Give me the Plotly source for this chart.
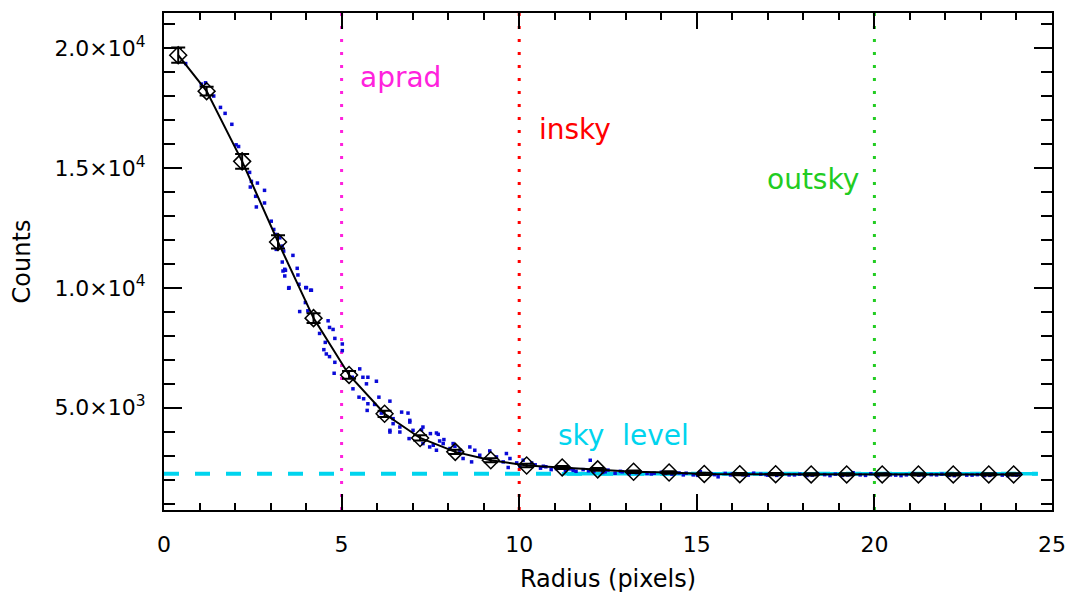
import plotly.graph_objects as go

# ---- data ----
radius = [0.40, 1.20, 2.20, 3.21, 4.21, 5.21, 6.21, 7.21, 8.20, 9.20, 10.21, 11.21, 12.21,
          13.22, 14.22, 15.21, 16.21, 17.22, 18.22, 19.22, 20.22, 21.24, 22.22, 23.22, 23.92]
counts = [19710, 18210, 15280, 11920, 8740, 6370, 4750, 3740, 3160, 2810, 2590, 2510, 2430,
          2330, 2300, 2240, 2230, 2230, 2220, 2220, 2220, 2220, 2220, 2220, 2220]
count_err = [320, 180, 310, 280, 200, 160, 130, 110, 90, 80, 70, 60, 60,
             50, 50, 50, 50, 50, 50, 50, 50, 50, 50, 50, 50]

pix_radius = [0.61, 1.05, 1.17, 1.40, 1.59, 1.72, 1.91, 2.03, 2.10, 2.41, 2.46, 2.63, 2.43, 2.83,
              2.58, 2.83, 2.60, 3.02, 3.09, 3.14, 3.33, 3.16, 3.63, 3.33, 3.75, 3.40,
              3.35, 3.40, 3.52, 4.01, 4.15, 3.80, 3.26, 3.37, 3.42, 3.77, 3.51, 3.99, 4.13,
              3.98, 3.82, 4.05, 4.62, 4.66, 4.76, 4.38, 4.54, 4.81, 4.50, 4.66, 4.57, 4.81,
              5.02, 5.02, 4.79, 5.30, 5.51, 5.60, 5.74, 5.98, 5.70, 5.32, 5.49, 5.62, 6.05,
              5.74, 5.93, 6.36, 5.72, 6.12, 6.45, 6.69, 6.87, 6.45, 6.64, 6.36, 6.92, 7.01,
              6.90, 7.25, 7.50, 7.67, 7.76, 7.58, 7.88, 7.29, 8.05, 8.14, 8.19, 8.33, 8.61,
              8.75, 8.89, 9.17, 9.36, 9.64, 9.55, 9.74, 9.93, 10.11, 10.02, 9.69, 8.66, 8.42,
              7.86, 7.72, 7.29, 6.92, 6.64, 6.36, 7.48, 7.67,
              10.45, 10.60, 10.75, 10.90, 11.05, 11.30, 11.45, 11.60, 11.80, 12.00, 12.10,
              12.35, 12.50, 12.70, 12.90, 13.10, 13.40, 13.60, 13.80, 14.00, 14.30, 14.50,
              14.70, 14.90, 15.10, 15.40, 15.60, 15.80, 16.00, 16.30, 16.60, 16.80, 17.00,
              17.40, 17.60, 17.90, 18.10, 18.40, 18.60, 18.90, 19.10, 19.40, 19.60, 19.90,
              20.10, 20.30, 20.60, 20.90, 21.10, 21.40, 21.60, 21.90, 22.10, 22.40, 22.60,
              22.90, 23.10, 23.40, 23.60, 23.90, 24.10,
              10.35, 10.68, 11.15, 11.52, 11.95, 12.42, 12.85, 13.30, 13.72, 14.12, 14.62,
              15.02, 15.50, 15.95, 16.45, 16.95, 17.25, 17.75, 18.25, 18.75, 19.25, 19.75,
              20.45, 20.75, 21.25, 21.75, 22.25, 22.75, 23.25, 23.75, 24.00]
pix_counts = [19360, 18504, 18558, 18006, 17532, 17283, 16826, 15970, 15900, 14820, 14445, 14375,
              14209, 14071, 13822, 13544, 13378, 12784, 12439, 12231, 11745, 11608, 11358,
              11080, 10818, 10777,
              10706, 10499, 10013, 10013, 9904, 10154, 12091, 11537, 10735, 10540, 9987, 10013,
              9904, 9389, 9015, 9045, 8629, 8351, 8268, 8101, 7728, 7894, 7424, 7134, 7245,
              6897, 7661, 7383, 6440, 6273, 6622, 6273, 6273, 6107, 5999, 5791, 5442, 5376,
              5442, 5168, 5139, 5276, 4890, 4778, 4545, 4819, 4778, 4337, 4196, 4059, 4404,
              4059, 3714, 4088, 3922, 3947, 3614, 3436, 3673, 3506, 3299, 3506, 3394, 3228,
              3365, 3228, 3020, 3199, 2950, 3091, 2742, 2883, 2700, 2813, 2563, 2509, 2742,
              2883, 3506, 3893, 4196, 4474, 3988, 3988, 3365, 3228,
              2620, 2480, 2540, 2420, 2460, 2380, 2450, 2350, 2420, 2810, 2340,
              2300, 2400, 2270, 2330, 2250, 2330, 2260, 2270, 2310, 2230, 2280,
              2270, 2200, 2330, 2250, 2120, 2260, 2240, 2200, 2270, 2230, 2190,
              2250, 2200, 2230, 2170, 2250, 2210, 2230, 2180, 2290, 2200, 2250,
              2160, 2230, 2190, 2200, 2250, 2170, 2210, 2230, 2180, 2250, 2190,
              2210, 2170, 2230, 2190, 2200, 2230,
              2700, 2560, 2500, 2390, 2370, 2330, 2350, 2290, 2240, 2260, 2200,
              2180, 2210, 2200, 2190, 2210, 2180, 2200, 2190, 2170, 2200, 2180,
              2200, 2170, 2190, 2200, 2170, 2190, 2180, 2170, 2190]

sky_level = 2250
sky_fit_range = [11.2, 24.6]
full_range = [0, 24.6]

aperture_names = ["aprad", "insky", "outsky"]
aperture_radii = [5, 10, 20]
aperture_colors = ["#ff22dd", "#ff0000", "#22cc22"]
label_pos_x = [5.45, 10.5, 16.92]
label_pos_y = [18770, 16630, 14510]

y_tickvals = [5000, 10000, 15000, 20000]
y_ticktext = ["5.0×10<sup>3</sup>", "1.0×10<sup>4</sup>", "1.5×10<sup>4</sup>", "2.0×10<sup>4</sup>"]
x_tickvals = [0, 5, 10, 15, 20, 25]
y_range = [735, 21470]
x_range = [0, 25]

FONT = "DejaVu Sans, Liberation Sans, sans-serif"
CYAN = "#00d4ee"

fig = go.Figure()

# sky level: dashed over full range, solid over fit range
fig.add_trace(go.Scatter(x=full_range, y=[sky_level, sky_level], mode="lines",
                         line=dict(color=CYAN, width=4, dash="15px,16px"), showlegend=False))
fig.add_trace(go.Scatter(x=sky_fit_range, y=[sky_level, sky_level], mode="lines",
                         line=dict(color=CYAN, width=3.5), showlegend=False))

# aperture lines
for r, c in zip(aperture_radii, aperture_colors):
    fig.add_trace(go.Scatter(x=[r, r], y=y_range, mode="lines",
                             line=dict(color=c, width=3, dash="3px,10px"),
                             showlegend=False, hoverinfo="skip"))

# blue pixel values
fig.add_trace(go.Scatter(x=pix_radius, y=pix_counts, mode="markers",
                         marker=dict(symbol="square", size=3.5, color="#0a0ad8", line=dict(width=0)),
                         showlegend=False, hoverinfo="skip"))

# profile with error bars
fig.add_trace(go.Scatter(x=radius, y=counts, mode="lines+markers",
                         line=dict(color="black", width=2),
                         marker=dict(symbol="diamond-open", size=13, color="black",
                                     line=dict(width=1.5, color="black")),
                         error_y=dict(type="data", array=count_err, visible=True,
                                      color="black", thickness=2, width=7),
                         showlegend=False))

for name, c, lx, ly in zip(aperture_names, aperture_colors, label_pos_x, label_pos_y):
    fig.add_annotation(x=lx, y=ly, text=name, showarrow=False, xanchor="left",
                       yanchor="middle", font=dict(family=FONT, size=28, color=c))

fig.add_annotation(x=11.03, y=3850, text="sky  level", showarrow=False, xanchor="left",
                   yanchor="middle", font=dict(family=FONT, size=28, color=CYAN))

axis_common = dict(showgrid=False, zeroline=False, showline=True, linecolor="black",
                   linewidth=2, mirror="allticks", ticks="inside", tickcolor="black",
                   tickwidth=2)

fig.update_xaxes(range=x_range, tickvals=x_tickvals, ticklen=16,
                 minor=dict(dtick=1, tick0=0, ticklen=7, ticks="inside", tickcolor="black",
                            tickwidth=2),
                 tickfont=dict(family=FONT, size=22, color="black"),
                 ticklabelstandoff=14,
                 title=dict(text="Radius (pixels)", font=dict(family=FONT, size=24, color="black"),
                            standoff=14),
                 **axis_common)
fig.update_yaxes(range=y_range, tickvals=y_tickvals, ticktext=y_ticktext, ticklen=18,
                 minor=dict(dtick=1000, tick0=0, ticklen=11, ticks="inside", tickcolor="black",
                            tickwidth=2),
                 tickfont=dict(family=FONT, size=22, color="black"),
                 ticklabelstandoff=12,
                 title=dict(text="Counts", font=dict(family=FONT, size=24, color="black"),
                            standoff=22),
                 **axis_common)

fig.update_layout(width=1075, height=595, margin=dict(l=156, r=31, t=3, b=93),
                  paper_bgcolor="white", plot_bgcolor="white", showlegend=False)

fig.write_html("out.html")
